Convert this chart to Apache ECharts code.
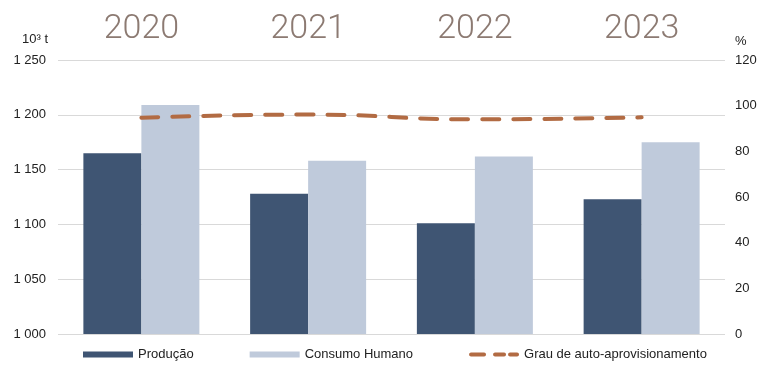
<!DOCTYPE html>
<html>
<head>
<meta charset="utf-8">
<script src="https://cdn.jsdelivr.net/npm/echarts@6/dist/echarts.min.js"></script>
<style>html,body{margin:0;padding:0;background:#fff}#c{width:763px;height:365px}</style>
</head>
<body>
<div id="c"></div>
<script>
const categories = ['2020', '2021', '2022', '2023'];
const producao = [1165, 1128, 1101, 1123];
const consumo = [1209, 1158, 1162, 1175];
const grau = [94.7, 96.1, 94.0, 94.9];
const leftTicks = [1000, 1050, 1100, 1150, 1200, 1250];
const rightTicks = [0, 20, 40, 60, 80, 100, 120];

const chart = echarts.init(document.getElementById('c'), null, {renderer: 'canvas'});
const fmt = v => String(v).replace(/\B(?=(\d{3})+(?!\d))/g, ' ');
chart.setOption({
  animation: false,
  textStyle: {fontFamily: 'Liberation Sans, Arial, sans-serif'},
  grid: {left: 58, right: 38, top: 60, bottom: 31},
  legend: {
    bottom: -1, left: 78, itemWidth: 50, itemHeight: 6, itemGap: 56,
    textStyle: {fontSize: 13, color: '#222', fontFamily: 'Liberation Sans, Arial, sans-serif'},
    data: [
      {name: 'Produção', icon: 'rect'},
      {name: 'Consumo Humano', icon: 'rect'},
      {name: 'Grau de auto-aprovisionamento',
        icon: 'path://M2,0h13a2,2 0 0 1 0,4h-13a2,2 0 0 1 0,-4z M26,0h9a2,2 0 0 1 0,4h-9a2,2 0 0 1 0,-4z M41,0h7a2,2 0 0 1 0,4h-7a2,2 0 0 1 0,-4z'}
    ]
  },
  xAxis: {
    type: 'category', data: categories, position: 'top',
    axisLine: {show: false}, axisTick: {show: false},
    axisLabel: {fontSize: 34, fontFamily: 'Roboto, sans-serif', fontWeight: 300, color: '#8c7a72', margin: 14}
  },
  yAxis: [
    {
      type: 'value', min: leftTicks[0], max: leftTicks[leftTicks.length - 1], interval: 50,
      name: '10³ t', nameLocation: 'end', nameGap: 14,
      nameTextStyle: {align: 'right', color: '#222', fontSize: 13, padding: [0, 10, 0, 0]},
      axisLine: {show: false}, axisTick: {show: false},
      axisLabel: {formatter: fmt, color: '#222', fontSize: 13, margin: 12},
      splitLine: {lineStyle: {color: '#d9d9d9', width: 1.2}}
    },
    {
      type: 'value', min: rightTicks[0], max: rightTicks[rightTicks.length - 1], interval: 20,
      name: '%', nameLocation: 'end', nameGap: 12,
      nameTextStyle: {align: 'left', color: '#222', fontSize: 13, padding: [0, 0, 0, 10]},
      axisLine: {show: false}, axisTick: {show: false},
      axisLabel: {color: '#222', fontSize: 13, margin: 10},
      splitLine: {show: false}
    }
  ],
  series: [
    {name: 'Produção', type: 'bar', data: producao, barWidth: 58, barGap: '0%',
      itemStyle: {color: '#3f5573'}},
    {name: 'Consumo Humano', type: 'bar', data: consumo, barWidth: 58, barGap: '0%',
      itemStyle: {color: '#bfcadb'}},
    {name: 'Grau de auto-aprovisionamento', type: 'line', yAxisIndex: 1, data: grau,
      smooth: true, symbol: 'none', z: 5,
      itemStyle: {color: '#b26b43'},
      lineStyle: {color: '#b26b43', width: 4, type: [17, 14], cap: 'round'}}
  ]
});
</script>
</body>
</html>
